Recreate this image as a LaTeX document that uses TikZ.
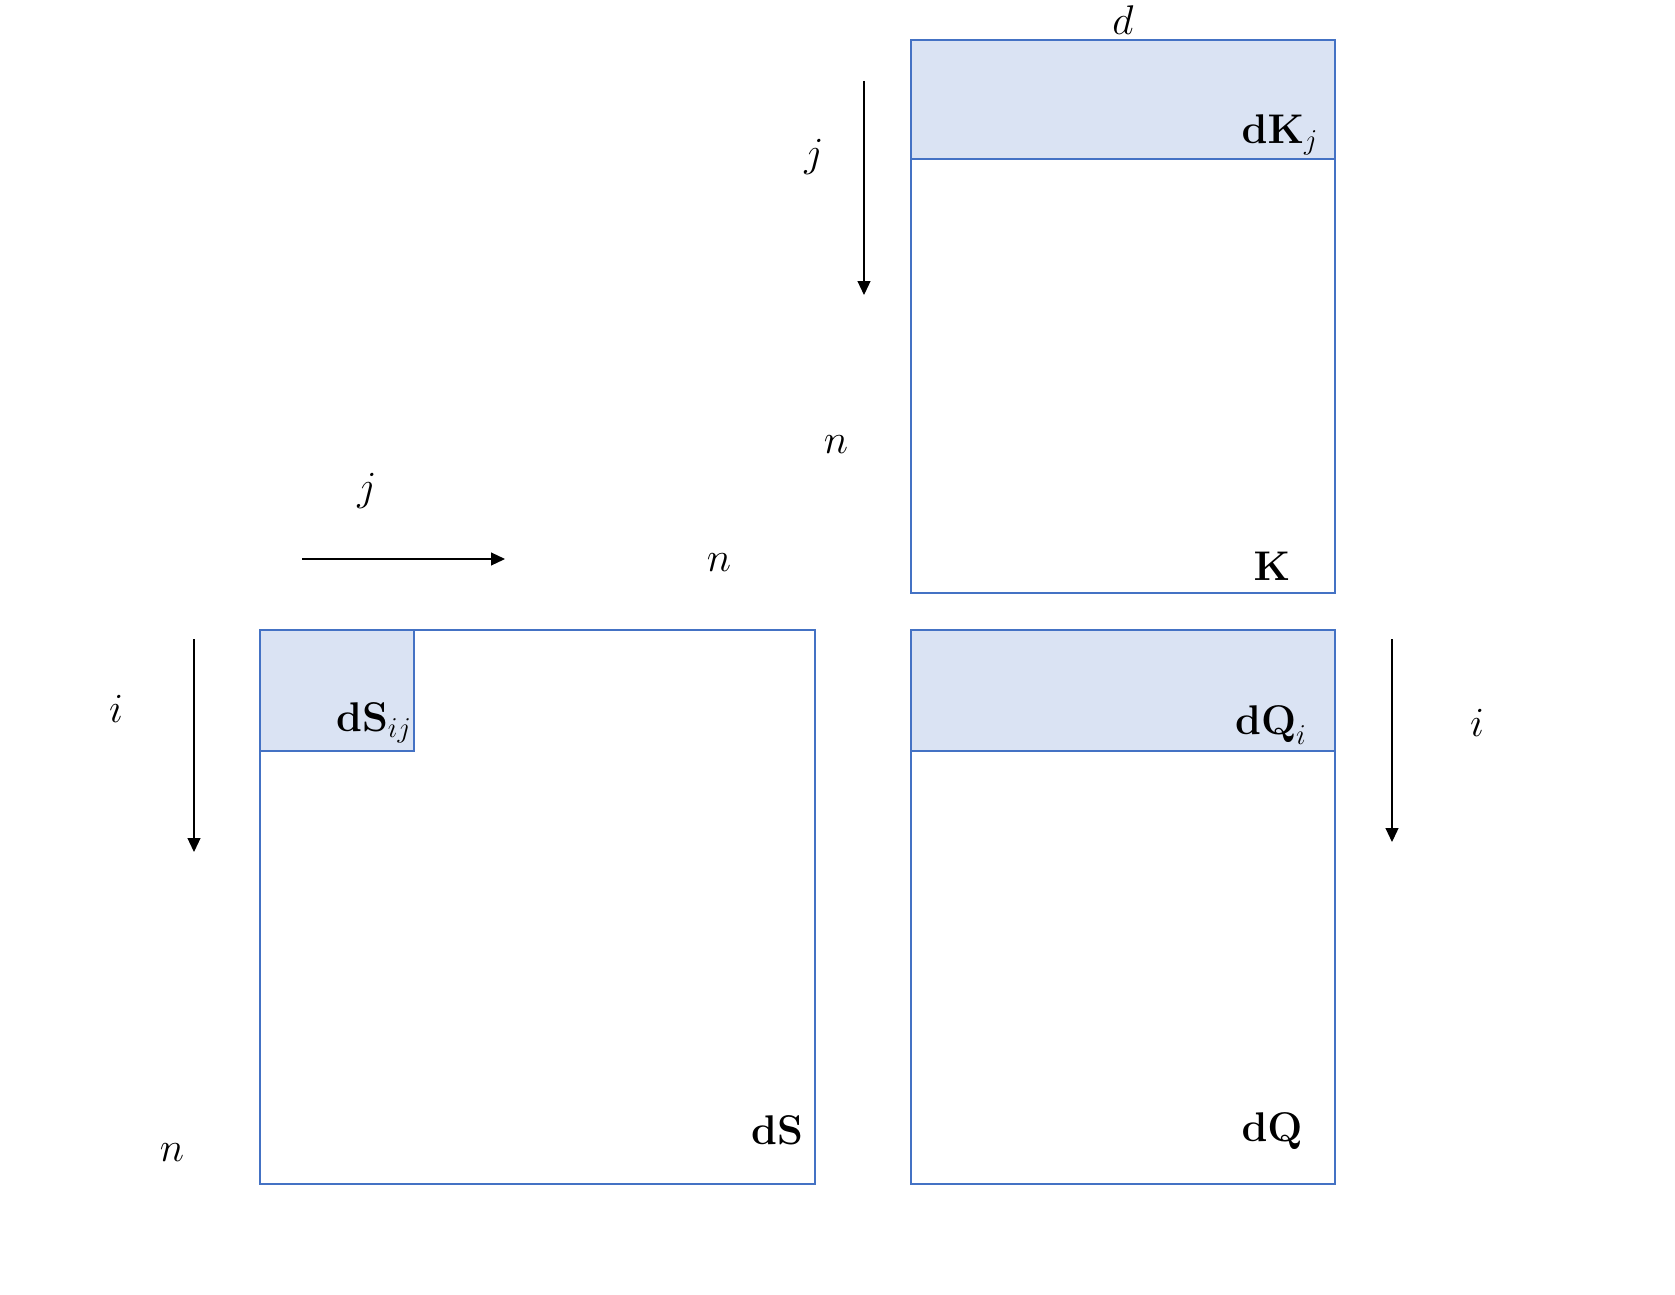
\documentclass[tikz,border=0pt]{standalone}
\usetikzlibrary{arrows.meta}
\definecolor{mblue}{HTML}{4472C4}
\definecolor{mfill}{HTML}{DAE3F3}
\tikzset{
  mat/.style={draw=mblue, line width=1pt},
  band/.style={draw=mblue, fill=mfill, line width=1pt},
  lbl/.style={font=\fontsize{20}{24}\selectfont, inner sep=0pt},
  dirarrow/.style={line width=0.6pt, -{Triangle[width=6.5pt,length=7pt]}}
}
\begin{document}
\begin{tikzpicture}[x=0.5pt,y=-0.5pt]
\useasboundingbox (0,0) rectangle (1675,1295);
% K matrix
\draw[band] (911,40) rectangle (1335,159);
\draw[mat] (911,40) rectangle (1335,593);
% dS matrix
\draw[band] (260,630) rectangle (414,751);
\draw[mat] (260,630) rectangle (815,1184);
% dQ matrix
\draw[band] (911,630) rectangle (1335,751);
\draw[mat] (911,630) rectangle (1335,1184);
% labels
\node[lbl] (d) at (1123,20) {$d$};
\node[lbl] (jK) at (814,157) {$j$};
\node[lbl] (nK) at (836,445) {$n$};
\node[lbl] (jS) at (367,491) {$j$};
\node[lbl] (nS1) at (719,563) {$n$};
\node[lbl] (iS) at (116,709) {$i$};
\node[lbl] (nS2) at (172,1153) {$n$};
\node[lbl] (iQ) at (1477,723) {$i$};
\node[lbl] (dKj) at (1280,135) {$\mathbf{dK}_{\scriptstyle j}$};
\node[lbl] (K) at (1272,566) {$\mathbf{K}$};
\node[lbl] (dSij) at (374,723) {$\mathbf{dS}_{\scriptstyle ij}$};
\node[lbl] (dS) at (777,1130) {$\mathbf{dS}$};
\node[lbl] (dQi) at (1271,725) {$\mathbf{dQ}_{\scriptstyle i}$};
\node[lbl] (dQ) at (1272,1131) {$\mathbf{dQ}$};
% arrows
\coordinate (a1s) at (864,81); \coordinate (a1e) at (864,295);
\coordinate (a2s) at (302,559); \coordinate (a2e) at (505,559);
\coordinate (a3s) at (194,639); \coordinate (a3e) at (194,852);
\coordinate (a4s) at (1392,639); \coordinate (a4e) at (1392,842);
\draw[dirarrow] (a1s) -- (a1e);
\draw[dirarrow] (a2s) -- (a2e);
\draw[dirarrow] (a3s) -- (a3e);
\draw[dirarrow] (a4s) -- (a4e);
\end{tikzpicture}
\end{document}
